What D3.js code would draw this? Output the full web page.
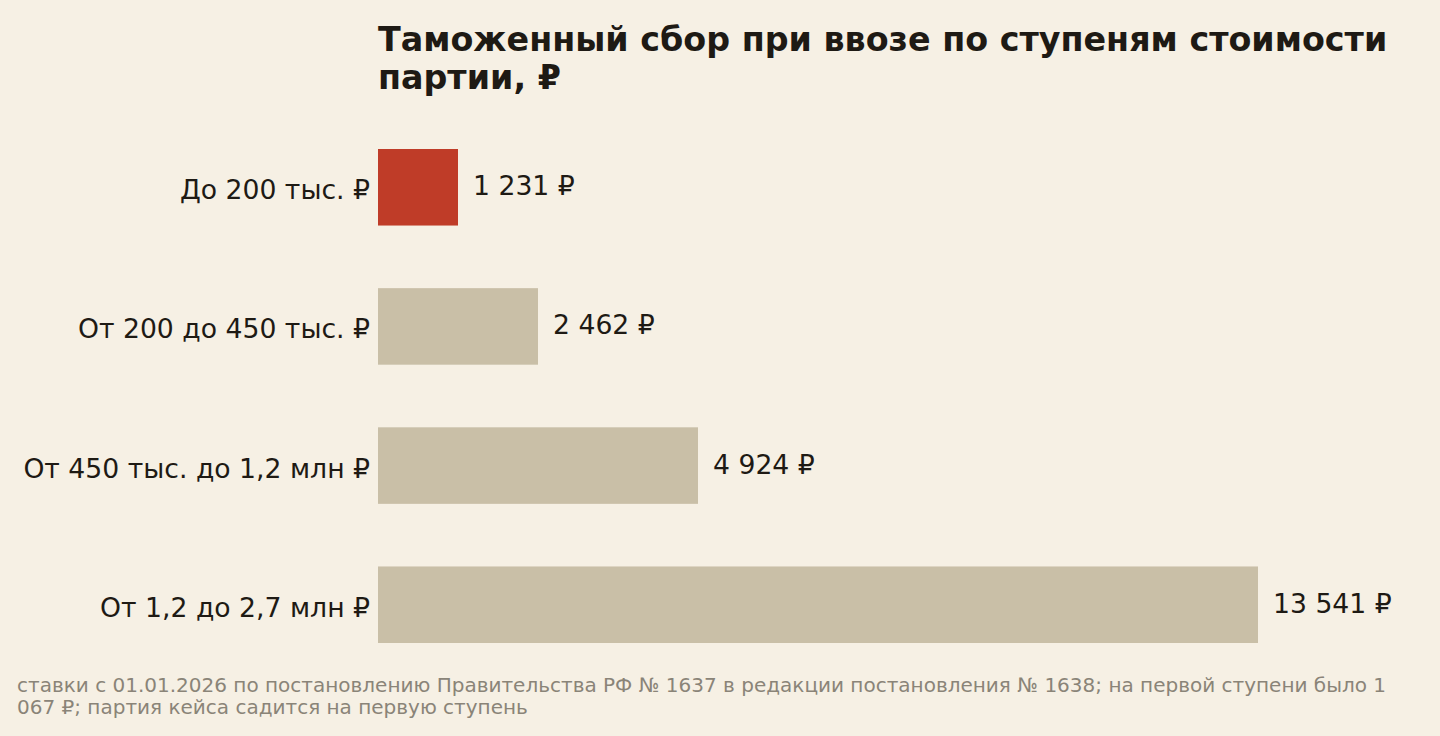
<!DOCTYPE html>
<html>
<head>
<meta charset="utf-8">
<script src="https://cdn.jsdelivr.net/npm/d3@7"></script>
<style>
  html, body { margin: 0; padding: 0; background: #f6f0e4; }
  svg { display: block; font-family: "DejaVu Sans", sans-serif; }
</style>
</head>
<body>
<div id="chart"></div>
<script>
// data
var categories = ["До 200 тыс. ₽", "От 200 до 450 тыс. ₽", "От 450 тыс. до 1,2 млн ₽", "От 1,2 до 2,7 млн ₽"];
var values = [1231, 2462, 4924, 13541];
var highlight = [true, false, false, false];
var title_lines = ["Таможенный сбор при ввозе по ступеням стоимости", "партии, ₽"];
var note_lines = [
    "ставки с 01.01.2026 по постановлению Правительства РФ № 1637 в редакции постановления № 1638; на первой ступени было 1",
    "067 ₽; партия кейса садится на первую ступень"
];

var svg_width = 1440;
var svg_height = 736;

var margin = {
    top: 149,
    bottom: 93,
    left: 378,
    right: 182
}

var rows = categories.map(function(c, i){
    return {cat: c, value: values[i], hl: highlight[i]}
})

var svg = d3.select("#chart")
    .append("svg")
    .attr("width", svg_width)
    .attr("height", svg_height);

svg.append("rect")
    .attr("width", svg_width)
    .attr("height", svg_height)
    .attr("fill", "#f6f0e4");

var x_scale = d3.scaleLinear()
    .domain([0, d3.max(values)])
    .range([margin.left, svg_width - margin.right]);

var y_scale = d3.scaleBand()
    .domain(categories)
    .range([margin.top, svg_height - margin.bottom])
    .paddingInner(0.45)
    .paddingOuter(0);

var fmt = function(v){
    return d3.format(",")(v).replace(/,/g, " ") + " ₽"
}

// title
svg.append("text")
    .attr("x", margin.left)
    .attr("y", 51)
    .attr("font-size", "25pt")
    .attr("font-weight", "bold")
    .attr("fill", "#1e1a14")
    .selectAll("tspan")
    .data(title_lines)
    .enter()
    .append("tspan")
    .attr("x", margin.left)
    .attr("dy", (d, i) => i == 0 ? 0 : 38)
    .text(d => d);

var bar_group = svg.selectAll(".bar")
    .data(rows)
    .enter()
    .append("g")
    .attr("class", "bar");

bar_group.append("rect")
    .attr("x", x_scale(0))
    .attr("y", d => y_scale(d.cat))
    .attr("width", d => x_scale(d.value) - x_scale(0))
    .attr("height", y_scale.bandwidth())
    .attr("fill", d => d.hl ? "#bf3c28" : "#c9bfa7");

// category labels
bar_group.append("text")
    .attr("x", x_scale(0) - 8)
    .attr("y", d => y_scale(d.cat) + y_scale.bandwidth() / 2 + 12)
    .attr("text-anchor", "end")
    .attr("font-size", "20pt")
    .attr("fill", "#1e1a14")
    .text(d => d.cat);

// value labels
bar_group.append("text")
    .attr("x", d => x_scale(d.value) + 15)
    .attr("y", d => y_scale(d.cat) + y_scale.bandwidth() / 2 + 8)
    .attr("font-size", "20pt")
    .attr("fill", "#1e1a14")
    .text(d => fmt(d.value));

// footnote
svg.append("text")
    .attr("x", 17)
    .attr("y", 692)
    .attr("font-size", "15pt")
    .attr("fill", "#8a8478")
    .selectAll("tspan")
    .data(note_lines)
    .enter()
    .append("tspan")
    .attr("x", 17)
    .attr("dy", (d, i) => i == 0 ? 0 : 22)
    .text(d => d);
</script>
</body>
</html>
